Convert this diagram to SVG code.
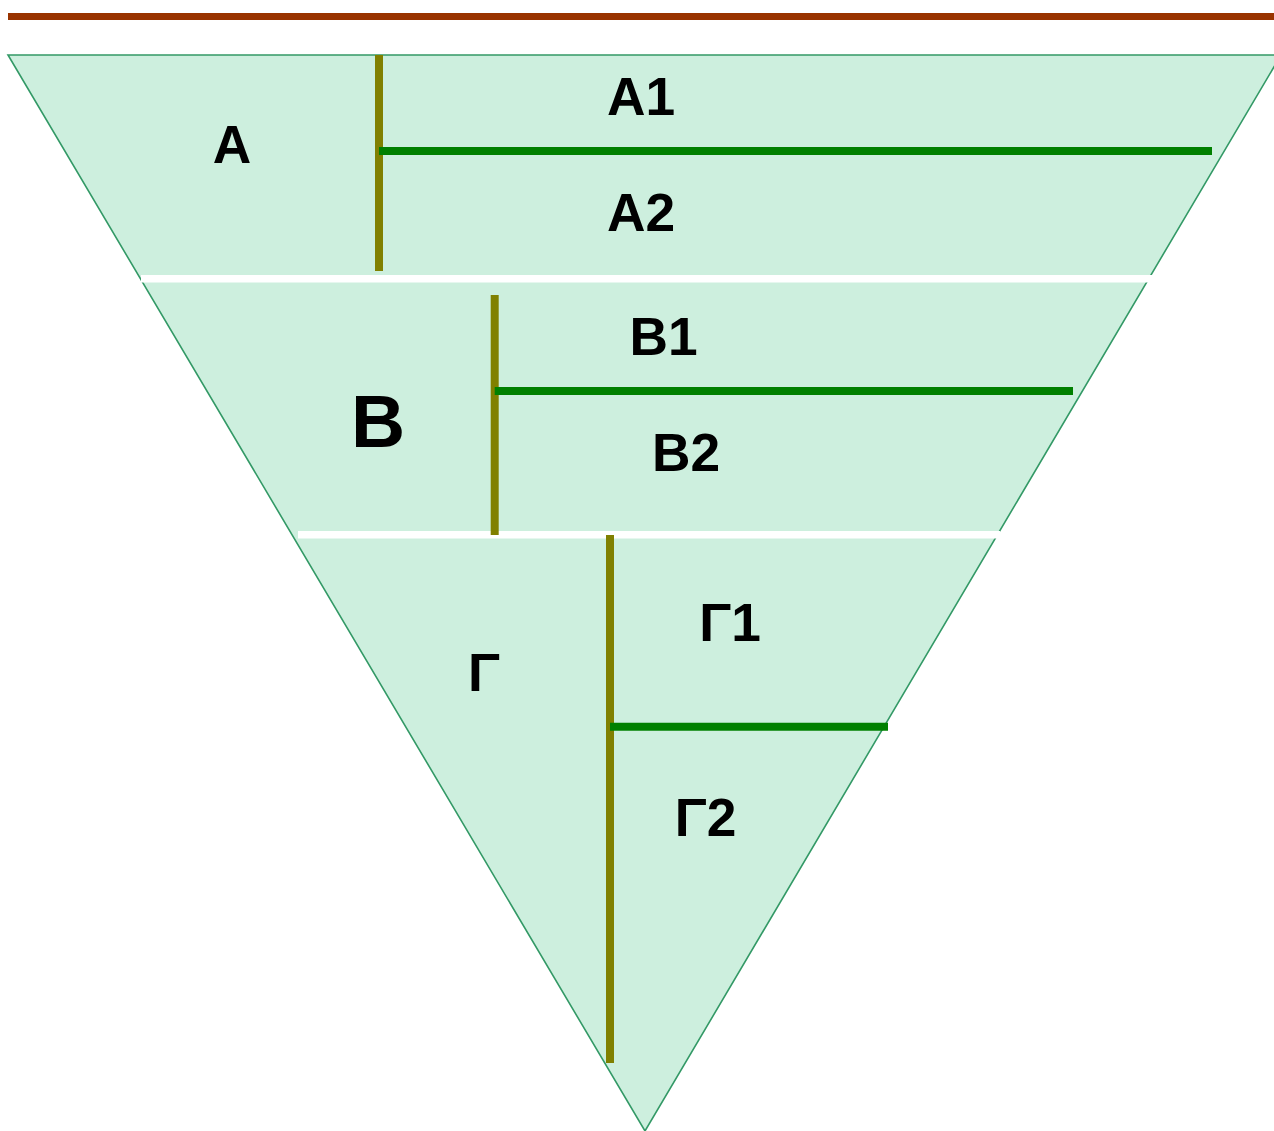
<svg xmlns="http://www.w3.org/2000/svg" width="1274" height="1131" viewBox="0 0 1274 1131">
<style>
.lbl{font-family:"Liberation Sans",Arial,sans-serif;font-weight:bold;font-size:53.3px;fill:#000;text-anchor:middle}
.big{font-size:75px}
.olive{stroke:#808000;stroke-width:8;fill:none}
.grn{stroke:#008000;stroke-width:8;fill:none}
.sep{stroke:#ffffff;stroke-width:7.5;fill:none}
</style>
<rect width="1274" height="1131" fill="#ffffff"/>
<line x1="8" y1="16.5" x2="1274" y2="16.5" stroke="#993300" stroke-width="7"/>
<g id="pyramid">
<polygon points="8,55 1281,55 645,1131" fill="#CDEFDE" stroke="#339966" stroke-width="1.6"/>
</g>
<g id="separators">
<line class="sep" x1="141" y1="278.8" x2="1152" y2="278.8"/>
<line class="sep" x1="298" y1="534.8" x2="1000" y2="534.8"/>
</g>
<g id="connectors">
<line class="olive" x1="379" y1="55" x2="379" y2="271"/>
<line class="grn" x1="379" y1="151" x2="1212" y2="151"/>
<line class="olive" x1="494.7" y1="295" x2="494.7" y2="535"/>
<line class="grn" x1="494.7" y1="391" x2="1073" y2="391"/>
<line class="olive" x1="610" y1="535" x2="610" y2="1063"/>
<line class="grn" x1="610" y1="726.7" x2="888" y2="726.7"/>
</g>
<g id="node-A"><text class="lbl" x="232" y="163">Α</text></g>
<g id="node-A1"><text class="lbl" x="641" y="115">Α1</text></g>
<g id="node-A2"><text class="lbl" x="641" y="231">Α2</text></g>
<g id="node-B"><text class="lbl big" x="378" y="447">Β</text></g>
<g id="node-B1"><text class="lbl" x="663.5" y="355">Β1</text></g>
<g id="node-B2"><text class="lbl" x="686" y="471">Β2</text></g>
<g id="node-G"><text class="lbl" x="484" y="691">Γ</text></g>
<g id="node-G1"><text class="lbl" x="730" y="641">Γ1</text></g>
<g id="node-G2"><text class="lbl" x="705.5" y="836">Γ2</text></g>
</svg>
